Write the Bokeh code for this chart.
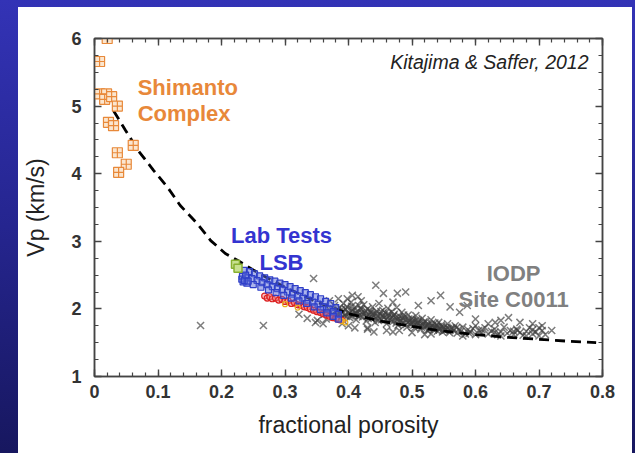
from bokeh.plotting import figure
from bokeh.models import (LinearAxis, Label, FixedTicker, CustomJSTickFormatter, Range1d)
from bokeh.embed import file_html
from bokeh.resources import INLINE

# ---------------- data ----------------
shimanto_x = [0.020, 0.008, 0.008, 0.019, 0.016, 0.027, 0.036, 0.022, 0.030, 0.061, 0.036, 0.050, 0.038]
shimanto_y = [6.00, 5.66, 5.18, 5.18, 5.10, 5.14, 5.00, 4.76, 4.71, 4.42, 4.31, 4.14, 4.02]

fit_x = [0.030, 0.049, 0.069, 0.093, 0.115, 0.135, 0.162, 0.183, 0.206, 0.225, 0.26, 0.30,
         0.35, 0.40, 0.45, 0.50, 0.55, 0.60, 0.65, 0.70, 0.75, 0.79]
fit_y = [4.93, 4.64, 4.34, 4.05, 3.80, 3.53, 3.26, 3.01, 2.82, 2.72, 2.52, 2.32,
         2.10, 1.93, 1.82, 1.74, 1.67, 1.62, 1.58, 1.55, 1.52, 1.50]

iodp_x = [0.167, 0.266, 0.345, 0.322, 0.348, 0.351, 0.384, 0.406, 0.443, 0.455, 0.477, 0.490,
          0.545, 0.560, 0.587, 0.652, 0.631, 0.690, 0.705, 0.666, 0.398, 0.420, 0.430, 0.460,
          0.500, 0.470, 0.520, 0.400, 0.360, 0.335, 0.410, 0.440, 0.580, 0.620, 0.600, 0.680, 0.640,
          0.362, 0.365, 0.368, 0.372, 0.375, 0.378, 0.380, 0.383, 0.386, 0.388, 0.390, 0.392,
          0.394, 0.396, 0.398, 0.400, 0.402, 0.404, 0.406, 0.408, 0.410, 0.412, 0.414, 0.416,
          0.418, 0.420, 0.422, 0.424, 0.426, 0.428, 0.430, 0.432, 0.434, 0.436, 0.438, 0.440,
          0.442, 0.444, 0.446, 0.448, 0.450, 0.452, 0.454, 0.456, 0.458, 0.460, 0.462, 0.464,
          0.466, 0.468, 0.470, 0.472, 0.474, 0.476, 0.478, 0.480, 0.482, 0.484, 0.486, 0.488,
          0.490, 0.492, 0.494, 0.496, 0.498, 0.500, 0.502, 0.504, 0.506, 0.508, 0.510, 0.512,
          0.514, 0.516, 0.518, 0.520, 0.522, 0.524, 0.526, 0.528, 0.530, 0.532, 0.534, 0.536,
          0.538, 0.540, 0.542, 0.544, 0.546, 0.548, 0.550, 0.553, 0.556, 0.559, 0.562, 0.565,
          0.568, 0.571, 0.574, 0.577, 0.580, 0.584, 0.588, 0.592, 0.596, 0.600, 0.605, 0.610,
          0.615, 0.620, 0.625, 0.630, 0.635, 0.640, 0.645, 0.650, 0.655, 0.660, 0.665, 0.670,
          0.675, 0.680, 0.685, 0.690, 0.695, 0.700, 0.705, 0.710,
          0.381, 0.389, 0.397, 0.405, 0.413, 0.421, 0.429, 0.437, 0.445, 0.453, 0.461, 0.469,
          0.477, 0.485, 0.493, 0.501, 0.509, 0.517, 0.525, 0.533, 0.541, 0.549, 0.557, 0.565,
          0.383, 0.387, 0.391, 0.395, 0.399, 0.403, 0.407, 0.411, 0.415, 0.419, 0.423, 0.427,
          0.431, 0.435, 0.439, 0.443, 0.447, 0.451, 0.455, 0.459, 0.463, 0.467, 0.471, 0.475,
          0.479, 0.483, 0.487, 0.491, 0.495, 0.499, 0.503, 0.507, 0.511, 0.515, 0.519, 0.523,
          0.527, 0.531, 0.535, 0.539, 0.543, 0.547, 0.551, 0.555, 0.560, 0.570, 0.590, 0.610,
          0.630, 0.660, 0.690, 0.700,
          0.370, 0.415, 0.470, 0.510, 0.530, 0.575, 0.600, 0.640, 0.670, 0.720, 0.430, 0.390,
          0.480, 0.530]
iodp_y = [1.755, 1.755, 2.45, 1.92, 1.80, 1.83, 2.15, 2.20, 2.35, 2.23, 2.23, 2.25,
          2.20, 2.03, 2.05, 1.87, 1.80, 1.78, 1.75, 1.68, 2.15, 2.12, 1.70, 1.68,
          1.65, 1.66, 1.62, 1.75, 1.78, 1.86, 1.72, 1.66, 1.60, 1.78, 1.75, 1.60, 1.60,
          1.92, 1.85, 2.00, 1.95, 1.88, 2.05, 1.97, 1.92, 2.02, 1.86, 1.95, 2.08,
          1.90, 1.99, 2.03, 1.93, 1.87, 2.10, 1.97, 1.92, 2.02, 1.84, 1.96, 2.05,
          1.90, 1.99, 1.88, 2.06, 1.94, 1.82, 2.00, 1.91, 1.97, 1.86, 2.03, 1.93,
          1.80, 1.96, 1.89, 2.08, 1.92, 1.84, 1.98, 1.87, 1.94, 1.78, 2.01, 1.90,
          1.85, 1.96, 1.81, 1.92, 1.87, 2.02, 1.76, 1.89, 1.83, 1.95, 1.79, 1.88,
          1.84, 1.73, 1.91, 1.82, 1.77, 1.86, 1.80, 1.72, 1.90, 1.78, 1.83, 1.75,
          1.70, 1.86, 1.79, 1.74, 1.81, 1.68, 1.77, 1.72, 1.84, 1.75, 1.69, 1.79,
          1.73, 1.67, 1.80, 1.71, 1.76, 1.66, 1.73, 1.69, 1.78, 1.65, 1.72, 1.68,
          1.75, 1.64, 1.70, 1.67, 1.73, 1.63, 1.69, 1.66, 1.71, 1.62, 1.68, 1.65,
          1.72, 1.63, 1.67, 1.70, 1.62, 1.66, 1.73, 1.64, 1.68, 1.62, 1.70, 1.65,
          1.61, 1.67, 1.72, 1.63, 1.66, 1.60, 1.68, 1.62,
          1.90, 1.99, 1.89, 2.04, 1.93, 1.95, 1.89, 1.92, 1.85, 1.90, 1.86, 1.88,
          1.84, 1.86, 1.80, 1.82, 1.80, 1.77, 1.76, 1.73, 1.74, 1.70, 1.71, 1.71,
          1.98, 1.93, 1.88, 2.00, 1.95, 1.90, 1.99, 1.94, 1.89, 2.01, 1.92, 1.97,
          1.86, 1.95, 1.88, 1.93, 1.83, 1.96, 1.89, 1.84, 1.93, 1.82, 1.90, 1.79,
          1.86, 1.81, 1.91, 1.77, 1.85, 1.80, 1.76, 1.84, 1.78, 1.73, 1.81, 1.75,
          1.70, 1.78, 1.72, 1.76, 1.69, 1.74, 1.68, 1.73, 1.69, 1.72, 1.64, 1.69,
          1.65, 1.67, 1.69, 1.72,
          2.12, 2.18, 2.10, 2.05, 2.12, 1.95, 1.85, 1.83, 1.80, 1.68, 1.72, 1.78,
          1.68, 1.63]

lab_blue_x = [0.236, 0.244, 0.252, 0.260, 0.268, 0.276, 0.284, 0.292, 0.300, 0.308, 0.316, 0.324,
              0.332, 0.340, 0.348, 0.356, 0.364, 0.372, 0.380,
              0.233, 0.240, 0.248, 0.256, 0.264, 0.272, 0.280, 0.288, 0.296, 0.304, 0.312, 0.320,
              0.328, 0.336, 0.344, 0.352, 0.360, 0.368, 0.376, 0.384,
              0.234, 0.240, 0.250, 0.262, 0.274, 0.286, 0.298, 0.310, 0.322, 0.334, 0.346, 0.356,
              0.366, 0.376, 0.384, 0.232, 0.236, 0.238, 0.242]
lab_blue_y = [2.57, 2.55, 2.52, 2.49, 2.46, 2.43, 2.41, 2.38, 2.36, 2.33, 2.30, 2.27,
              2.24, 2.21, 2.18, 2.15, 2.11, 2.08, 2.02,
              2.48, 2.46, 2.45, 2.42, 2.39, 2.36, 2.33, 2.30, 2.28, 2.25, 2.22, 2.19,
              2.16, 2.13, 2.10, 2.07, 2.03, 2.00, 1.96, 1.92,
              2.40, 2.38, 2.36, 2.32, 2.28, 2.24, 2.20, 2.16, 2.12, 2.08, 2.03, 1.99,
              1.94, 1.89, 1.85, 2.44, 2.42, 2.50, 2.41]

lab_red_x = [0.268, 0.272, 0.276, 0.280, 0.285, 0.290, 0.295, 0.300, 0.305, 0.310, 0.315, 0.320,
             0.325, 0.330, 0.335, 0.340, 0.345, 0.350, 0.355, 0.360, 0.365, 0.370, 0.375, 0.380,
             0.385, 0.390]
lab_red_y = [2.19, 2.16, 2.18, 2.15, 2.16, 2.13, 2.14, 2.11, 2.12, 2.08, 2.09, 2.06,
             2.05, 2.03, 2.02, 2.00, 1.98, 1.96, 1.95, 1.93, 1.91, 1.89, 1.87, 1.86,
             1.84, 1.83]

lab_yellow_x = [0.300, 0.320, 0.390, 0.395]
lab_yellow_y = [2.07, 2.02, 1.82, 1.80]

lab_green_x = [0.222, 0.226]
lab_green_y = [2.66, 2.60]

x_ticks = [0, 0.1, 0.2, 0.3, 0.4, 0.5, 0.6, 0.7, 0.8]
y_ticks = [1, 2, 3, 4, 5, 6]

# ---------------- figure ----------------
p = figure(width=635, height=453, output_backend="svg", toolbar_location=None,
           x_range=Range1d(0, 0.8), y_range=Range1d(1, 6),
           min_border_left=94, min_border_right=33, min_border_top=38, min_border_bottom=77,
           background_fill_color="white", border_fill_alpha=0)
p.styles = {"background": "linear-gradient(#ffffff, #ffffff) 18px 7px / 614px 446px no-repeat, "
                          "linear-gradient(180deg, #3333b6 0%, #25258f 50%, #17175f 100%)"}
p.grid.visible = False
p.outline_line_color = "#444444"
p.outline_line_width = 1.5

axcol = "#444444"
x_minor = [i * 0.02 for i in range(41)]
y_minor = [1 + i * 0.25 for i in range(21)]


def style_axis(ax):
    ax.axis_line_color = axcol
    ax.axis_line_width = 1.5
    ax.major_tick_in = 7
    ax.major_tick_out = 0
    ax.minor_tick_in = 4
    ax.minor_tick_out = 0
    ax.major_tick_line_color = axcol
    ax.minor_tick_line_color = axcol
    ax.major_tick_line_width = 1.4
    ax.minor_tick_line_width = 1.2


for ax in (p.xaxis[0], p.yaxis[0]):
    style_axis(ax)
    ax.major_label_text_font = "Liberation Sans"
    ax.major_label_text_font_size = "18px"
    ax.major_label_text_font_style = "bold"
    ax.major_label_text_color = "#333333"
    ax.axis_label_text_font = "Liberation Sans"
    ax.axis_label_text_font_size = "23px"
    ax.axis_label_text_font_style = "normal"
    ax.axis_label_text_color = "#222222"

p.xaxis[0].ticker = FixedTicker(ticks=x_ticks, minor_ticks=x_minor)
p.yaxis[0].ticker = FixedTicker(ticks=y_ticks, minor_ticks=y_minor)
p.xaxis[0].axis_label = "fractional porosity"
p.yaxis[0].axis_label = "Vp (km/s)"
p.xaxis[0].major_label_standoff = 8
p.xaxis[0].axis_label_standoff = 11
p.yaxis[0].major_label_standoff = 13
p.yaxis[0].axis_label_standoff = 19

blank = CustomJSTickFormatter(code="return ''")
top = LinearAxis(ticker=FixedTicker(ticks=x_ticks, minor_ticks=x_minor), formatter=blank)
right = LinearAxis(ticker=FixedTicker(ticks=y_ticks, minor_ticks=y_minor), formatter=blank)
for ax in (top, right):
    style_axis(ax)
    ax.major_label_text_font_size = "1px"
    ax.major_label_standoff = 0
p.add_layout(top, "above")
p.add_layout(right, "right")

# ---------------- data glyphs ----------------
p.scatter(iodp_x, iodp_y, marker="x", size=10, line_color="#3e3e3e", line_width=1.5, line_alpha=0.68)
p.line(fit_x, fit_y, line_color="black", line_width=2.8, line_dash="10 6")
p.scatter(lab_red_x, lab_red_y, marker="circle", size=6, line_color="#dd2222", fill_color="#f08080",
          fill_alpha=0.5, line_width=1.2)
p.scatter(lab_yellow_x, lab_yellow_y, marker="circle", size=5, line_color="#e8b020", fill_alpha=0,
          line_width=1.2)
p.scatter(lab_blue_x, lab_blue_y, marker="square", size=6, line_color="#2f3fc8", fill_color="#5a6ad8",
          fill_alpha=0.5, line_width=1.2)
p.scatter(lab_green_x, lab_green_y, marker="square", size=8, line_color="#88b030", fill_color="#c8e090",
          line_width=1.5)
p.scatter(shimanto_x, shimanto_y, marker="square_cross", size=10, line_color="#e8893a",
          fill_color="#fbe6cf", line_width=1.2)


# ---------------- annotations ----------------
def lab(x, y, text, color, size, style="bold", align="left"):
    p.add_layout(Label(x=x, y=y, text=text, text_color=color, text_font="Liberation Sans",
                       text_font_size=size, text_font_style=style, text_align=align,
                       text_baseline="middle"))


lab(0.778, 5.645, "Kitajima & Saffer, 2012", "#222222", "19.5px", "italic", "right")
lab(0.068, 5.275, "Shimanto", "#e8883a", "22px")
lab(0.068, 4.89, "Complex", "#e8883a", "22px")
lab(0.2945, 3.09, "Lab Tests", "#3434d0", "22px", align="center")
lab(0.2945, 2.69, "LSB", "#3434d0", "22px", align="center")
lab(0.66, 2.52, "IODP", "#808080", "22px", align="center")
lab(0.66, 2.14, "Site C0011", "#808080", "22px", align="center")

open("out.html", "w").write(file_html(p, INLINE))
